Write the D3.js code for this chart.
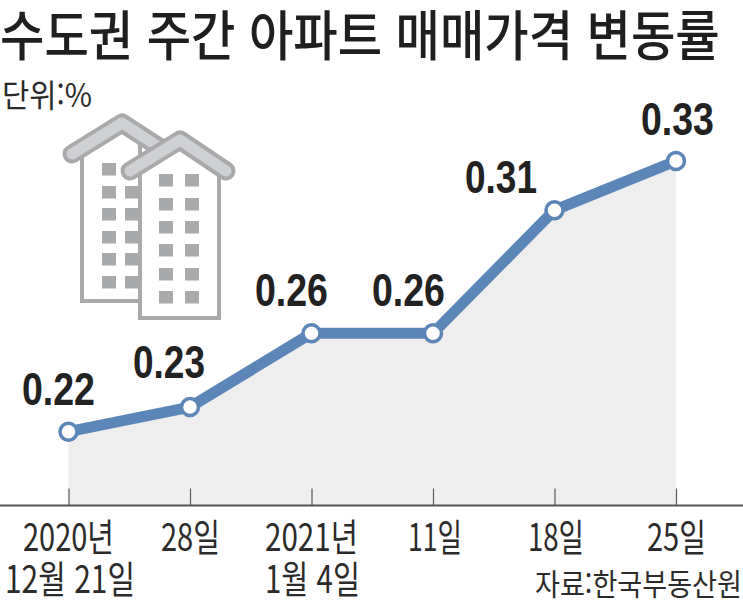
<!DOCTYPE html>
<html lang="ko">
<head>
<meta charset="utf-8">
<script src="https://cdn.jsdelivr.net/npm/d3@7/dist/d3.min.js"></script>
<style>
html,body{margin:0;padding:0;background:#fff;overflow:hidden}
svg{display:block}
</style>
</head>
<body>
<svg id="chart" width="743" height="600"></svg>
<script>
// Weekly change in apartment sale prices, Seoul metropolitan area
const categories = ["2020-12-21", "12-28", "2021-01-04", "01-11", "01-18", "01-25"];
const values = [0.22, 0.23, 0.26, 0.26, 0.31, 0.33];
const tickLine1 = ["2020년", "28일", "2021년", "11일", "18일", "25일"];
const tickLine2 = ["12월 21일", "", "1월 4일", "", "", ""];

const svg = d3.select("#chart");
const korean = "'Noto Sans CJK KR','Liberation Sans',sans-serif";
const latin = "'Liberation Sans','Noto Sans CJK KR',sans-serif";

const x = d3.scalePoint().domain(categories).range([68.5, 676]);
const y = d3.scaleLinear().domain([0.19, 0.33]).range([505.5, 161]);
const axisY = 505.5;

// Places text so that its rendered ink spans x0..x1, squeezing it horizontally.
function fitted(str, x0, x1, baseline, size, weight, fill, family) {
  const t = svg.append("text")
    .text(str)
    .attr("font-family", family || korean)
    .attr("font-size", size)
    .attr("font-weight", weight)
    .attr("fill", fill)
    .attr("xml:space", "preserve");
  const b = t.node().getBBox();
  const k = (x1 - x0) / b.width;
  t.attr("transform", `translate(${x0 - b.x * k},${baseline}) scale(${k},1)`);
  return t;
}

// Building pictogram
const gray = "#a9aaac", roofFill = "#cfd0d2";
const icon = svg.append("g");
function building(wall, roof, cols, rows, skipFirst) {
  const slope = d3.scaleLinear().domain(roof.map(p => p[0])).range(roof.map(p => p[1]));
  icon.append("path")
    .attr("d", d3.line()([
      [wall.x0, slope(wall.x0)], roof[1], [wall.x1, slope(wall.x1)],
      [wall.x1, wall.y1], [wall.x0, wall.y1]
    ]) + "Z")
    .attr("fill", "#fff").attr("stroke", gray).attr("stroke-width", 4);
  rows.forEach((ry, i) => cols.forEach((cx, j) => {
    if (skipFirst && i === 0 && j === 1) return;
    icon.append("rect").attr("x", cx).attr("y", ry)
      .attr("width", 14).attr("height", 12.5).attr("fill", gray);
  }));
  const line = d3.line();
  icon.append("path").attr("d", line(roof)).attr("fill", "none").attr("stroke", gray)
    .attr("stroke-width", 19).attr("stroke-linecap", "round").attr("stroke-linejoin", "round");
  icon.append("path").attr("d", line(roof)).attr("fill", "none").attr("stroke", roofFill)
    .attr("stroke-width", 11).attr("stroke-linecap", "round").attr("stroke-linejoin", "round");
}
building({x0: 82, x1: 140, y1: 301}, [[72, 154], [122, 123], [162, 149]],
  [102, 125], [163, 186, 208, 231, 253, 276], true);
building({x0: 140, x1: 219, y1: 318}, [[130, 171], [180, 140], [226, 171]],
  [159, 185], [174, 198, 221, 244, 268, 291], false);

// Area under the line
svg.append("path")
  .datum(values)
  .attr("d", d3.area()
    .x((d, i) => x(categories[i]))
    .y0(axisY)
    .y1(d => y(d)))
  .attr("fill", "#eeeeee");

// Date axis: long baseline plus short upward ticks
const axis = svg.append("g")
  .attr("transform", `translate(0,${axisY})`)
  .call(d3.axisBottom(x).tickSize(-17).tickFormat(""));
axis.select(".domain").remove();
axis.selectAll("line").attr("stroke", "#5a5a5a").attr("stroke-width", 1.2);
axis.append("line").attr("x1", 0).attr("x2", 743).attr("stroke", "#555").attr("stroke-width", 2);

// Data line and hollow markers
svg.append("path")
  .datum(values)
  .attr("d", d3.line().x((d, i) => x(categories[i])).y(d => y(d)))
  .attr("fill", "none")
  .attr("stroke", "#5d86b8")
  .attr("stroke-width", 11)
  .attr("stroke-linejoin", "round");

svg.selectAll("circle.dot")
  .data(values)
  .join("circle")
  .attr("class", "dot")
  .attr("cx", (d, i) => x(categories[i]))
  .attr("cy", d => y(d))
  .attr("r", 8.5)
  .attr("fill", "#fff")
  .attr("stroke", "#5d86b8")
  .attr("stroke-width", 3.5);

// Value labels sit above their markers
const labelLayout = [
  {x0: 22, x1: 95, dy: -27},
  {x0: 133, x1: 205, dy: -29},
  {x0: 255, x1: 328, dy: -27},
  {x0: 372, x1: 445, dy: -27},
  {x0: 465, x1: 537, dy: -17},
  {x0: 641, x1: 714, dy: -26}
];
values.forEach((v, i) => {
  const l = labelLayout[i];
  fitted(d3.format(".2f")(v), l.x0, l.x1, y(v) + l.dy, 47, 700, "#222", latin);
});

// Tick labels on one or two lines
const line1Span = [[23, 114], [161, 220], [265, 358], [408, 462], [528, 584], [647, 706]];
const line2Span = [[5, 135], null, [265, 360], null, null, null];
tickLine1.forEach((s, i) => fitted(s, line1Span[i][0], line1Span[i][1], 551, 38, 400, "#2b2b2b"));
tickLine2.forEach((s, i) => {
  if (s) fitted(s, line2Span[i][0], line2Span[i][1], 593, 38, 400, "#2b2b2b");
});

// Headings and source
fitted("수도권 주간 아파트 매매가격 변동률", 0, 720, 56, 54, 500, "#1f1f1f");
fitted("단위:%", 2, 92, 107, 32, 400, "#2b2b2b");
fitted("자료:한국부동산원", 535, 742, 595, 30, 400, "#2b2b2b");
</script>
</body>
</html>
